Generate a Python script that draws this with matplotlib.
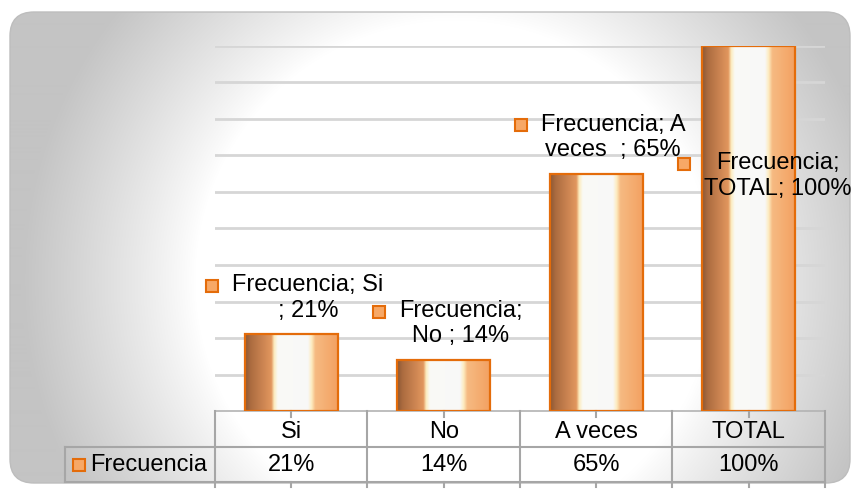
import matplotlib
matplotlib.use("Agg")
import matplotlib.pyplot as plt
import numpy as np
from matplotlib.patches import FancyBboxPatch, Rectangle
from matplotlib.colors import LinearSegmentedColormap
import matplotlib.transforms as mtransforms

plt.rcParams['font.family'] = ['Liberation Sans', 'DejaVu Sans']

# Datos de la tabla de frecuencias
categorias = ["Si ", "No ", "A veces  ", "TOTAL"]
porcentajes = [21, 14, 65, 100]
serie = "Frecuencia"
palabras_linea1 = [2, 1, 2, 1]   # corte de linea de cada etiqueta

W, H = 852, 494
fig = plt.figure(figsize=(W / 100, H / 100), dpi=100)
fig.patch.set_facecolor("white")

# Fondo: panel redondeado con degradado radial (blanco al centro, gris en los bordes)
bg = fig.add_axes([0, 0, 1, 1], zorder=-10)
bg.set_xlim(0, W)
bg.set_ylim(H, 0)
bg.axis("off")
yy, xx = np.mgrid[0:H, 0:W]
d = np.sqrt((xx - 455) ** 2 + (yy - 280) ** 2) / 260.0
val = 255 - 85 * np.clip(d - 1, 0, None) ** 0.9
val = np.clip(val, 196, 255) / 255.0
img = bg.imshow(np.dstack([val, val, val]), extent=(0, W, H, 0), interpolation="bilinear")
panel = FancyBboxPatch((10, 12), 840, 471, boxstyle="round,pad=0,rounding_size=24",
                       facecolor="none", edgecolor="#bdbdbd", linewidth=1.0)
bg.add_patch(panel)
img.set_clip_path(panel)

# Area del grafico
x0, x1, ytop, ybot = 215, 825, 46, 411
ax = fig.add_axes([x0 / W, 1 - ybot / H, (x1 - x0) / W, (ybot - ytop) / H])
ax.set_facecolor("none")
for s in ax.spines.values():
    s.set_visible(False)
ax.set_xticks([])
ax.set_yticks([])

# Lineas de division horizontales
for g in range(10, 101, 10):
    ax.axhline(g, color="#d6d6d6", linewidth=2.0, zorder=0)
ax.axhline(0, color="#b3b3b3", linewidth=1.2, zorder=0, clip_on=False)

# Degradado de las barras (cilindro)
paradas = [
    (0.00, (140, 88, 52)),
    (0.06, (172, 108, 64)),
    (0.28, (226, 150, 94)),
    (0.31, (252, 236, 190)),
    (0.35, (250, 250, 246)),
    (0.67, (248, 248, 248)),
    (0.71, (253, 236, 192)),
    (0.75, (246, 186, 130)),
    (1.00, (243, 160, 96)),
]
cmap_barra = LinearSegmentedColormap.from_list(
    "barra", [(p, tuple(c / 255 for c in rgb)) for p, rgb in paradas])
grad = np.linspace(0, 1, 256).reshape(1, -1)

ancho = 0.61
xs = np.arange(len(categorias))
barras = ax.bar(xs, porcentajes, width=ancho, color="none",
                edgecolor="#E46C0A", linewidth=1.6, zorder=3)
for b in barras:
    bx, by = b.get_x(), b.get_y()
    bw, bh = b.get_width(), b.get_height()
    im = ax.imshow(grad, cmap=cmap_barra, aspect="auto", extent=(bx, bx + bw, by, by + bh),
                   interpolation="bilinear", zorder=2)
    clip = Rectangle((bx, by), bw, bh, transform=ax.transData)
    im.set_clip_path(clip)
ax.set_xlim(-0.5, 3.5)
ax.set_ylim(0, 100)

# Etiquetas de datos
fs = 17
textos = []
for i, (cat, v) in enumerate(zip(categorias, porcentajes)):
    palabras = f"{serie}; {cat}; {v}%".split(" ")
    n = palabras_linea1[i]
    etiqueta = " ".join(palabras[:n]) + "\n" + " ".join(palabras[n:])
    if v + 22 <= 100:
        tx, ty = i + 0.11, v + 10
    else:
        tx, ty = i + 0.19, v - 35.6
    t = ax.text(tx, ty, etiqueta, ha="center", va="center", multialignment="center",
                fontsize=fs, color="black", zorder=5, clip_on=False)
    textos.append(t)

fig.canvas.draw()
ren = fig.canvas.get_renderer()
inv = ax.transData.inverted()
for t in textos:
    bb = t.get_window_extent(ren)
    mx, my = inv.transform((bb.x0 - 20, bb.y1 - bb.height / 4))
    ax.plot([mx], [my], marker="s", markersize=9, markerfacecolor="#F7A866",
            markeredgecolor="#E46C0A", markeredgewidth=1.5, linestyle="none",
            clip_on=False, zorder=6)

# Tabla de datos bajo el eje
trans = mtransforms.blended_transform_factory(ax.transData, ax.transAxes)
alto_ax = ybot - ytop
fila1 = -36 / alto_ax
fila2 = -71 / alto_ax
extra = -76 / alto_ax
tick = -6 / alto_ax
x_cab = (65 - x0) / 152.5 - 0.5
col_tabla = "#a6a6a6"
kw = dict(color=col_tabla, linewidth=1.5, transform=trans, clip_on=False)

for xv in np.arange(-0.5, 4.0, 1.0):
    ax.plot([xv, xv], [0, extra], **kw)
for xv in xs:
    ax.plot([xv, xv], [0, tick], **kw)
    ax.plot([xv, xv], [fila2, extra], **kw)
ax.plot([x_cab, 3.5], [fila1, fila1], **kw)
ax.plot([x_cab, 3.5], [fila2, fila2], **kw)
ax.plot([x_cab, x_cab], [fila1, fila2], **kw)

for i, (cat, v) in enumerate(zip(categorias, porcentajes)):
    ax.text(i, fila1 / 2 - 0.008, cat.strip(), ha="center", va="center", fontsize=fs,
            transform=trans, clip_on=False)
    ax.text(i, (fila1 + fila2) / 2, f"{v}%", ha="center", va="center", fontsize=fs,
            transform=trans, clip_on=False)

x_marca = (79 - x0) / 152.5 - 0.5
x_txt = (90 - x0) / 152.5 - 0.5
ax.plot([x_marca], [(fila1 + fila2) / 2], marker="s", markersize=9,
        markerfacecolor="#F7A866", markeredgecolor="#E46C0A", markeredgewidth=1.5,
        transform=trans, clip_on=False)
ax.text(x_txt, (fila1 + fila2) / 2, serie, ha="left", va="center", fontsize=fs,
        transform=trans, clip_on=False)

fig.savefig("out.png", dpi=100)
